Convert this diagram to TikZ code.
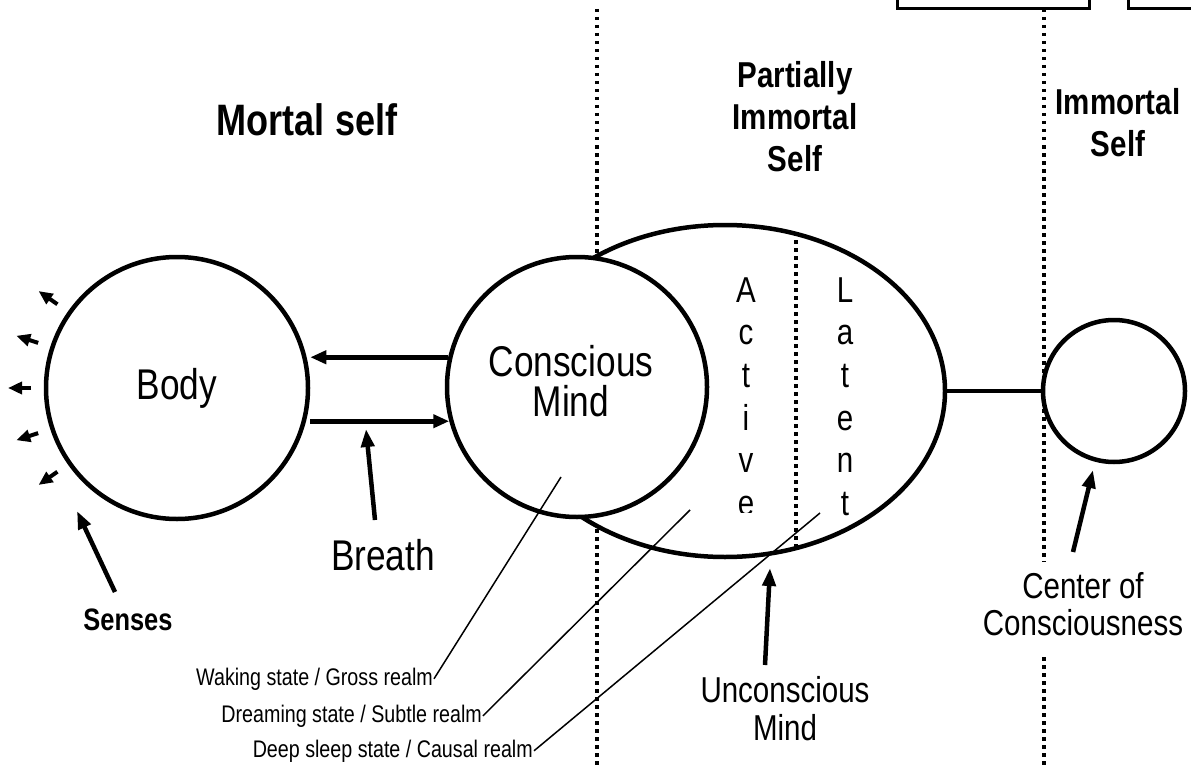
\documentclass[tikz,border=0pt]{standalone}
\usepackage{fontspec}
\setmainfont{Liberation Sans}[FakeStretch=0.82]
\usetikzlibrary{shapes.geometric,arrows.meta,calc}
\newcommand\myBig{\fontsize{36}{42}\selectfont}
\newcommand\myLarge{\fontsize{43}{40}\selectfont}
\newcommand\myHead{\fontsize{44}{48}\selectfont\bfseries}
\newcommand\mySmall{\fontsize{24}{28}\selectfont}
\newcommand\mySenses{\fontsize{31}{34}\selectfont\bfseries}
\begin{document}
\begin{tikzpicture}[x=1pt,y=-1pt,
  ring/.style={draw, circle, line width=4.5pt, fill=white, inner sep=0pt},
  dotline/.style={line width=4.5pt, dash pattern=on 3.5pt off 4.5pt},
  bigarr/.style={line width=4.5pt, -{Triangle[length=18pt,width=13pt]}},
  hor/.style={line width=5pt, -{Triangle[length=16pt,width=13pt]}},
  sensearr/.style={line width=4pt, -{Triangle[length=14pt,width=12pt]}},
  thinline/.style={line width=1.5pt},
  lbl/.style={font=\myBig, align=center, inner sep=0pt},
  head/.style={font=\myBig\bfseries, align=center, inner sep=0pt},
  letter/.style={font=\myBig, anchor=base, inner sep=0pt}
]
\useasboundingbox (0,0) rectangle (1191,765);
\clip (0,0) rectangle (1191,765);

% top boxes
\draw[line width=3pt] (897,-30) -- (897,9) -- (1089,9) -- (1089,-30);
\draw[line width=3pt] (1128,-30) -- (1128,9) -- (1220,9);

% dotted dividers
\draw[dotline] (597,9) -- (597,765);
\draw[dotline] (1044,9) -- (1044,562);
\draw[dotline] (1044,657) -- (1044,765);

% unconscious mind ellipse
\node[draw, ellipse, line width=4.5pt, fill=white, inner sep=0pt,
      minimum width=440pt, minimum height=332pt] (uncon) at (725,391) {};
\begin{scope}
  \clip (725,391) ellipse [x radius=220pt, y radius=166pt];
  \draw[dotline] (796,200) -- (796,600);
\end{scope}

% center of consciousness circle
\node[ring, minimum size=142pt] (coc) at (1114,391) {};
\draw[line width=4pt] (uncon.east) -- (coc.west);

% conscious mind circle
\node[ring, minimum size=260pt] (cm) at (577,387) {};
\node[font=\myLarge, align=center, inner sep=0pt] (cmtext) at (571,381) {Conscious\\Mind};

% body circle
\node[ring, minimum size=262pt, font=\myLarge] (body) at (177,388) {Body};

% active / latent columns
\begin{scope}
  \clip (700,200) rectangle (790,512);
  \foreach \ch [count=\i] in {A,c,t,i,v,e}
    \node[letter] (act\i) at (746,{302+42.7*(\i-1)}) {\ch};
\end{scope}
\foreach \ch [count=\i] in {L,a,t,e,n,t}
  \node[letter] (lat\i) at (845,{302+42.7*(\i-1)}) {\ch};

% headings
\node[font=\myHead, inner sep=0pt] (mortal) at (307,120) {Mortal self};
\node[head] (partial) at (795,117) {Partially\\Immortal\\Self};
\node[head] (immortal) at (1118,123) {Immortal\\Self};

% labels
\node[font=\myLarge, inner sep=0pt] (breath) at (383,555) {Breath};
\node[font=\mySenses, inner sep=0pt] (senses) at (128,620) {Senses};
\node[font=\fontsize{36}{38}\selectfont, align=center, inner sep=0pt] (unlabel) at (785,709) {Unconscious\\Mind};
\node[font=\fontsize{36}{37}\selectfont, align=center, inner sep=0pt] (coclabel) at (1083,604) {Center of\\Consciousness};

\node[font=\mySmall, anchor=base east, inner sep=1pt] (wake) at (434,685) {Waking state / Gross realm};
\node[font=\mySmall, anchor=base east, inner sep=1pt] (dream) at (483,722) {Dreaming state / Subtle realm};
\node[font=\mySmall, anchor=base east, inner sep=1pt] (deep) at (534,757) {Deep sleep state / Causal realm};

\coordinate (wakeE) at (561,477);
\coordinate (dreamE) at (690,510);
\coordinate (deepE) at (820,513);
\draw[thinline] (wake.east) -- (wakeE);
\draw[thinline] (dream.east) -- (dreamE);
\draw[thinline] (deep.east) -- (deepE);

% body <-> conscious mind arrows
\draw[hor] (cm.167) -- (body.east |- cm.167);
\draw[hor] (body.east |- cm.195) -- (cm.195);

% pointer arrows
\coordinate (brT) at (375,520); \coordinate (brH) at (366,429);
\coordinate (seT) at (115,592); \coordinate (seH) at (77,511);
\coordinate (unT) at (765,665); \coordinate (unH) at (770,568);
\coordinate (ccT) at (1073,552); \coordinate (ccH) at (1093,470);
\draw[bigarr] (brT) -- (brH);
\draw[bigarr] (seT) -- (seH);
\draw[bigarr] (unT) -- (unH);
\draw[bigarr] (ccT) -- (ccH);

% senses radiating arrows
\foreach \a in {145,162,180,198,215}
  \draw[sensearr] ($(body.center)+(\a:146pt)$) -- ($(body.center)+(\a:169pt)$);
\end{tikzpicture}
\end{document}
